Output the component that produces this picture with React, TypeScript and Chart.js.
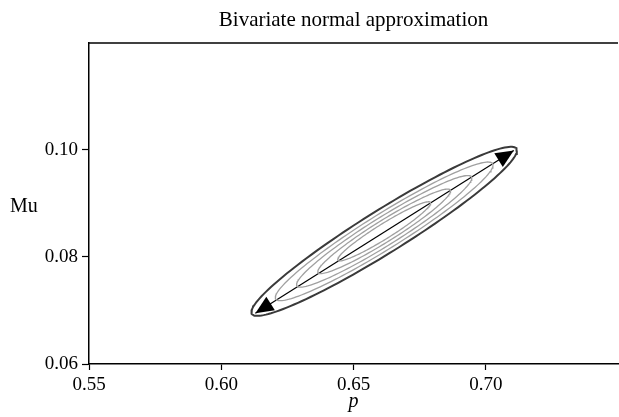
import React, { useEffect, useRef } from "react";
import { Chart, registerables } from "chart.js";

Chart.register(...registerables);

// ---- data ----
const titleText = "Bivariate normal approximation";
const xLabel = "p";
const yLabel = "Mu";
const xRange = [0.55, 0.75];
const yRange = [0.06, 0.12];
const xTicks = [0.55, 0.6, 0.65, 0.7];
const yTicks = [0.06, 0.08, 0.1];
// bivariate normal contours: centre, outer half-extents (p, Mu), correlation
const centre = [0.6616, 0.0848];
const outerHalfExtent = [0.0502, 0.0158];
const correlation = 0.955;
const contourScales = [1, 0.82, 0.66, 0.5, 0.35];
const contourColors = ["#3a3a3a", "#a0a0a0", "#a0a0a0", "#a0a0a0", "#a0a0a0"];
const contourWidths = [2, 1.3, 1.3, 1.3, 1.3];
// principal-axis arrow
const arrowStart = [0.6129, 0.0695];
const arrowEnd = [0.7106, 0.0999];

const FONT = "'Liberation Serif', 'DejaVu Serif', serif";

function ellipsePoints(scale: number) {
  const pts: { x: number; y: number }[] = [];
  const n = 160;
  const s = Math.sqrt(1 - correlation * correlation);
  for (let i = 0; i <= n; i++) {
    const t = (i / n) * Math.PI * 2;
    pts.push({
      x: centre[0] + scale * outerHalfExtent[0] * Math.cos(t),
      y: centre[1] + scale * outerHalfExtent[1] * (correlation * Math.cos(t) + s * Math.sin(t)),
    });
  }
  return pts;
}

const decorPlugin = {
  id: "decor",
  afterDatasetsDraw(chart: any) {
    const { ctx, scales } = chart;
    const x = scales.x;
    const y = scales.y;
    const sx = x.getPixelForValue(arrowStart[0]);
    const sy = y.getPixelForValue(arrowStart[1]);
    const ex = x.getPixelForValue(arrowEnd[0]);
    const ey = y.getPixelForValue(arrowEnd[1]);
    const drawHead = (tx: number, ty: number, fx: number, fy: number) => {
      const ang = Math.atan2(ty - fy, tx - fx);
      const len = 18;
      const hw = 8;
      const bx = tx - len * Math.cos(ang);
      const by = ty - len * Math.sin(ang);
      ctx.save();
      ctx.fillStyle = "#000";
      ctx.beginPath();
      ctx.moveTo(tx, ty);
      ctx.lineTo(bx + hw * Math.sin(ang), by - hw * Math.cos(ang));
      ctx.lineTo(bx - hw * Math.sin(ang), by + hw * Math.cos(ang));
      ctx.closePath();
      ctx.fill();
      ctx.restore();
    };
    drawHead(ex, ey, sx, sy);
    drawHead(sx, sy, ex, ey);
  },
  afterDraw(chart: any) {
    const { ctx, chartArea } = chart;
    ctx.save();
    ctx.strokeStyle = "#000";
    ctx.lineWidth = 1.5;
    ctx.beginPath();
    ctx.moveTo(chartArea.left, chartArea.top);
    ctx.lineTo(chartArea.right, chartArea.top);
    ctx.stroke();
    ctx.fillStyle = "#000";
    ctx.font = `21px ${FONT}`;
    ctx.textAlign = "center";
    ctx.textBaseline = "alphabetic";
    ctx.fillText(titleText, (chartArea.left + chartArea.right) / 2, 26);
    ctx.font = `italic 20px ${FONT}`;
    ctx.fillText(xLabel, (chartArea.left + chartArea.right) / 2, 407);
    ctx.font = `20px ${FONT}`;
    ctx.textAlign = "left";
    ctx.fillText(yLabel, 10, 212);
    ctx.restore();
  },
};

export default function App() {
  const ref = useRef<HTMLCanvasElement | null>(null);
  useEffect(() => {
    if (!ref.current) return;
    const datasets: any[] = contourScales.map((s, i) => ({
      data: ellipsePoints(s),
      showLine: true,
      pointRadius: 0,
      borderColor: contourColors[i],
      borderWidth: contourWidths[i],
      tension: 0,
      fill: false,
    }));
    datasets.push({
      data: [
        { x: arrowStart[0], y: arrowStart[1] },
        { x: arrowEnd[0], y: arrowEnd[1] },
      ],
      showLine: true,
      pointRadius: 0,
      borderColor: "#000",
      borderWidth: 1.2,
    });
    const tickFont = { family: FONT, size: 19 };
    const chart = new Chart(ref.current, {
      type: "scatter",
      data: { datasets },
      options: {
        responsive: false,
        animation: false,
        layout: { padding: { top: 43, right: 1, left: 0, bottom: 0 } },
        plugins: {
          legend: { display: false },
          tooltip: { enabled: false },
          title: { display: false },
        },
        scales: {
          x: {
            type: "linear",
            min: xRange[0],
            max: xRange[1],
            afterBuildTicks: (s: any) => {
              s.ticks = xTicks.map((v) => ({ value: v }));
            },
            afterFit: (s: any) => {
              s.height = 53;
            },
            grid: {
              display: true,
              drawOnChartArea: false,
              drawTicks: true,
              tickLength: 6,
              tickColor: "#000",
              tickWidth: 1.2,
            },
            border: { display: true, color: "#000", width: 1.5 },
            ticks: {
              color: "#000",
              font: tickFont,
              padding: 4,
              maxRotation: 0,
              callback: (v: any) => Number(v).toFixed(2),
            },
          },
          y: {
            type: "linear",
            min: yRange[0],
            max: yRange[1],
            afterBuildTicks: (s: any) => {
              s.ticks = yTicks.map((v) => ({ value: v }));
            },
            afterFit: (s: any) => {
              s.width = 89;
            },
            grid: {
              display: true,
              drawOnChartArea: false,
              drawTicks: true,
              tickLength: 7,
              tickColor: "#000",
              tickWidth: 1.2,
            },
            border: { display: true, color: "#000", width: 1.5 },
            ticks: {
              color: "#000",
              font: tickFont,
              padding: 4,
              callback: (v: any) => Number(v).toFixed(2),
            },
          },
        },
      } as any,
      plugins: [decorPlugin],
    });
    return () => chart.destroy();
  }, []);
  return (
    <div style={{ position: "absolute", left: 0, top: 0, width: 619, height: 417, background: "#fff" }}>
      <canvas ref={ref} width={619} height={417} style={{ display: "block" }} />
    </div>
  );
}
